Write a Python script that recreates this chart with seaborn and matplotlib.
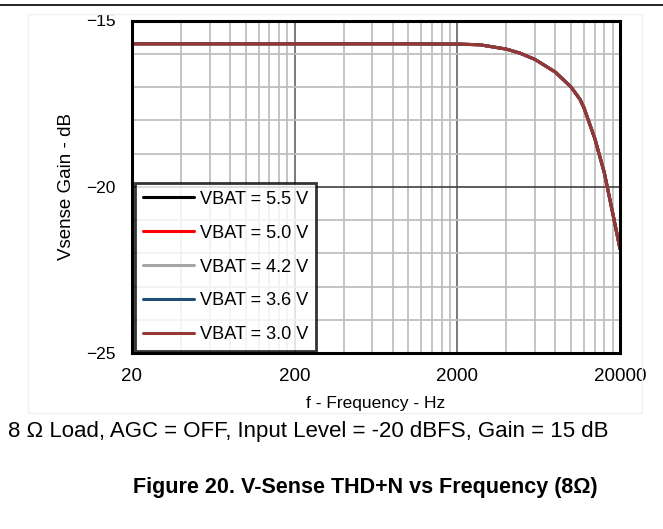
import numpy as np
import pandas as pd
import seaborn as sns
import matplotlib
matplotlib.use("Agg")
import matplotlib.pyplot as plt
from matplotlib.ticker import FixedLocator, NullFormatter, FixedFormatter
from matplotlib.patches import Rectangle
from matplotlib.lines import Line2D

# ---- data ----
freq_hz = [20, 200, 1000, 2000, 2750, 4000, 4840, 6000, 8000, 10000, 11350, 12000, 14000, 16000, 18000, 20000]
gain_db = [-15.70, -15.70, -15.70, -15.71, -15.73, -15.86, -15.98, -16.17, -16.55, -17.00, -17.37, -17.62, -18.55, -19.57, -20.77, -21.87]
series_labels = ["VBAT = 5.5 V", "VBAT = 5.0 V", "VBAT = 4.2 V", "VBAT = 3.6 V", "VBAT = 3.0 V"]
series_colors = ["#000000", "#FF0000", "#A6A6A6", "#1F4E79", "#953735"]
x_ticks = [20, 200, 2000, 20000]
x_ticklabels = ["20", "200", "2000", "20000"]
y_ticks = [-25, -20, -15]
y_ticklabels = ["\u221225", "\u221220", "\u221215"]

rows = []
for lab in series_labels:
    for f, g in zip(freq_hz, gain_db):
        rows.append({"f": f, "gain": g, "series": lab})
df = pd.DataFrame(rows)

sns.set_theme(style="white")
plt.rcParams["font.family"] = ["Liberation Sans", "DejaVu Sans"]
plt.rcParams["text.color"] = "black"

fig = plt.figure(figsize=(6.63, 5.29), dpi=100)
ax = fig.add_axes([132 / 663, 1 - 353 / 529, (620 - 132) / 663, (353 - 20.5) / 529])

# faint outer frame and top rule
fig.add_artist(Rectangle((28 / 663, 1 - 413 / 529), (642 - 28) / 663, (413 - 14) / 529,
                         transform=fig.transFigure, fill=False, edgecolor="#F0F0F0", lw=1))
fig.add_artist(Line2D([0, 1], [1 - 5 / 529, 1 - 5 / 529], transform=fig.transFigure,
                      color="black", lw=1.2))

ax.set_xscale("log")
ax.set_xlim(20, 20000)
ax.set_ylim(-25, -15)

# grid
minor_x = []
for dec in [20, 200, 2000]:
    for k in range(2, 10):
        minor_x.append(dec * k)
for xv in minor_x:
    ax.axvline(xv, color="#BFBFBF", lw=1.3, zorder=1)
for xv in [200, 2000]:
    ax.axvline(xv, color="#707070", lw=1.3, zorder=1)
for yv in range(-24, -15):
    if yv == -20:
        ax.axhline(yv, color="#404040", lw=1.2, zorder=1)
    else:
        ax.axhline(yv, color="#BFBFBF", lw=1.3, zorder=1)

sns.lineplot(data=df, x="f", y="gain", hue="series", hue_order=series_labels,
             palette=dict(zip(series_labels, series_colors)), lw=2.2, ax=ax,
             zorder=3, legend=True)

ax.xaxis.set_major_locator(FixedLocator(x_ticks))
ax.xaxis.set_major_formatter(FixedFormatter(x_ticklabels))
ax.xaxis.set_minor_formatter(NullFormatter())
ax.xaxis.set_minor_locator(FixedLocator([]))
ax.yaxis.set_major_locator(FixedLocator(y_ticks))
ax.yaxis.set_major_formatter(FixedFormatter(y_ticklabels))
ax.tick_params(axis="both", length=0, colors="black")
ax.tick_params(axis="y", pad=12, labelsize=12.5)
ax.tick_params(axis="x", pad=11, labelsize=13.5)

for s in ax.spines.values():
    s.set_color("black")
    s.set_linewidth(2.2)
    s.set_zorder(5)

ax.set_xlabel("f - Frequency - Hz", fontsize=12.5, color="black", labelpad=8)
ax.set_ylabel("Vsense Gain - dB", fontsize=13.5, color="black", labelpad=8)

handles, labels = ax.get_legend_handles_labels()
leg = ax.legend(handles, labels, loc="lower left", bbox_to_anchor=(0.006, 0.006),
                borderaxespad=0, fontsize=13.1, frameon=True, fancybox=False,
                handlelength=2.85, handletextpad=0.3, labelspacing=0.93,
                borderpad=0.42, title=None, labelcolor="black")
leg.get_frame().set_edgecolor("black")
leg.get_frame().set_linewidth(2)
leg.set_zorder(6)
for h in leg.get_lines():
    h.set_linewidth(2.2)

fig.text(8 / 663, 1 - 431 / 529, "8 \u03a9 Load, AGC = OFF, Input Level = -20 dBFS, Gain = 15 dB",
         fontsize=16, ha="left", va="center", color="black")
fig.text(365 / 663, 1 - 487 / 529, "Figure 20. V-Sense THD+N vs Frequency (8\u03a9)",
         fontsize=15.5, fontweight="bold", ha="center", va="center", color="black")

fig.savefig("out.png", dpi=100)
